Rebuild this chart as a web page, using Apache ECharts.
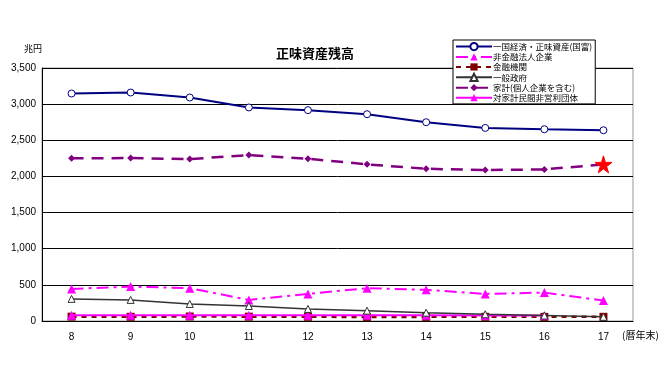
<!DOCTYPE html>
<html><head><meta charset="utf-8">
<script src="https://cdn.jsdelivr.net/npm/echarts@6/dist/echarts.min.js"></script>
<style>html,body{margin:0;padding:0;background:#fff}#c{width:665px;height:388px}</style>
</head><body><div id="c"></div>
<script>
const categories = ['8','9','10','11','12','13','14','15','16','17'];
const kokufu = [3147,3161,3092,2954,2917,2861,2750,2671,2653,2639];
const hikinyu = [444,476,454,292,375,454,431,375,393,282];
const kinyu = [60,58,62,60,58,56,57,58,57,58];
const seifu = [306,292,236,208,167,143,115,93,76,58];
const kakei = [2250,2254,2240,2296,2245,2167,2106,2088,2097,2167];
const taikakei = [80,80,80,80,79,78,78,77,77,null];
const seriesNames = ['一国経済・正味資産(国富)','非金融法人企業','金融機関','一般政府','家計(個人企業を含む)','対家計民間非営利団体'];
const yTicks = [0,500,1000,1500,2000,2500,3000,3500];

const starPath = 'path://M50,0 L61,35 L98,35 L68,57 L79,91 L50,70 L21,91 L32,57 L2,35 L39,35 Z';
const kakeiData = kakei.map((v,i)=> i===kakei.length-1 ? {value:v, symbol:starPath, symbolSize:17, itemStyle:{color:'#ff0000',borderColor:'#ff0000'}} : v);

const chart = echarts.init(document.getElementById('c'), null, {renderer:'canvas'});
const jp = '"Liberation Sans","Noto Sans CJK JP",sans-serif';
chart.setOption({
  animation:false,
  backgroundColor:'#fff',
  textStyle:{fontFamily:jp},
  title:{text:'正味資産残高', left:310, top:42, textAlign:'center',
    textStyle:{fontSize:13, fontWeight:'bold', color:'#000', fontFamily:'"Noto Sans CJK JP",sans-serif'}},
  graphic:[
    {type:'text', left:24, top:44, style:{text:'兆円', fill:'#000', font:'9px "Noto Sans CJK JP"'}},
    {type:'text', left:622, top:330, style:{text:'(暦年末)', fill:'#000', font:'10px "Noto Sans CJK JP"'}}
  ],
  legend:{
    orient:'vertical', left:453, top:40, itemGap:1.5, itemWidth:36, itemHeight:9,
    backgroundColor:'#fff', borderColor:'#000', borderWidth:1, padding:[2,3,2,2],
    textStyle:{fontSize:8.5, color:'#000', fontFamily:'"Noto Sans CJK JP",sans-serif', padding:[0,0,0,-4]},
    data:seriesNames
  },
  grid:{left:42, right:32, top:68, bottom:67, show:true, borderColor:'#999', borderWidth:1},
  xAxis:{type:'category', data:categories, boundaryGap:true,
    axisLine:{lineStyle:{color:'#000', width:1}},
    axisTick:{inside:true, length:4, lineStyle:{color:'#000'}},
    axisLabel:{fontSize:10, color:'#000', margin:11, fontFamily:jp}},
  yAxis:{type:'value', min:0, max:3500, interval:500,
    axisLine:{show:true, lineStyle:{color:'#000', width:1}},
    axisTick:{show:false},
    splitLine:{lineStyle:{color:'#000', width:1}},
    axisLabel:{fontSize:10, color:'#000', margin:6, fontFamily:jp,
      formatter:v=>v.toLocaleString('en-US')}},
  series:[
    {name:seriesNames[0], type:'line', data:kokufu, z:5,
      lineStyle:{color:'#000080', width:2}, symbol:'circle', symbolSize:7,
      itemStyle:{color:'#fff', borderColor:'#000080', borderWidth:1}},
    {name:seriesNames[1], type:'line', data:hikinyu, z:4,
      lineStyle:{color:'#ff00ff', width:2, type:[12,5,3,5]}, symbol:'triangle', symbolSize:9,
      itemStyle:{color:'#ff00ff'}},
    {name:seriesNames[2], type:'line', data:kinyu, z:3,
      lineStyle:{color:'#800000', width:2.5, type:[5,5]}, symbol:'rect', symbolSize:8,
      itemStyle:{color:'#800000'}},
    {name:seriesNames[3], type:'line', data:seifu, z:6,
      lineStyle:{color:'#333333', width:1.5}, symbol:'triangle', symbolSize:7,
      itemStyle:{color:'#fff', borderColor:'#333333', borderWidth:1}},
    {name:seriesNames[4], type:'line', data:kakeiData, z:5,
      lineStyle:{color:'#800080', width:2.5, type:[12,8]}, symbol:'diamond', symbolSize:7,
      itemStyle:{color:'#800080'}},
    {name:seriesNames[5], type:'line', data:taikakei, z:4,
      lineStyle:{color:'#ff00ff', width:2}, symbol:'triangle', symbolSize:9,
      itemStyle:{color:'#ff00ff'}}
  ]
});
</script></body></html>
